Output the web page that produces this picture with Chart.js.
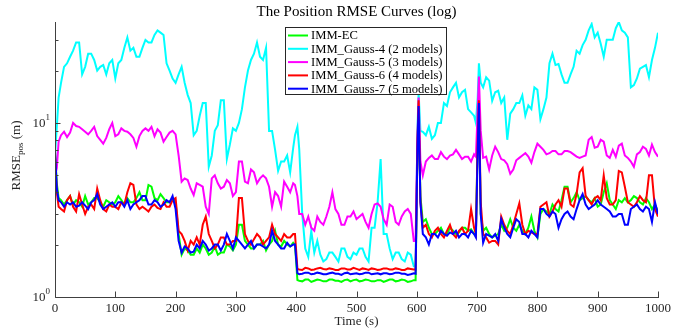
<!DOCTYPE html>
<html>
<head>
<meta charset="utf-8">
<script src="https://cdn.jsdelivr.net/npm/chart.js@4.4.1/dist/chart.umd.min.js"></script>
<style>
    html, body { margin: 0; padding: 0; background: #fff; }
    #contenedor { width: 686px; height: 328px; }
</style>
</head>
<body>
<div id="contenedor"><canvas id="graficoRmse" width="686" height="328"></canvas></div>
<script>
// tiempos muestreados (s)
const time = [0, 3, 6, 10, 15, 20, 25, 30, 35, 40, 45,
    50, 55, 60, 65, 70, 75, 80, 85, 90, 95,
    100, 105, 110, 115, 120, 125, 130, 135, 140, 145,
    150, 155, 160, 165, 170, 175, 180, 185, 190, 195,
    200, 205, 210, 215, 220, 225, 230, 235, 240, 245,
    250, 255, 260, 265, 270, 275, 280, 285, 290, 295,
    300, 305, 310, 315, 320, 325, 330, 335, 340, 345,
    350, 355, 360, 365, 370, 375, 380, 385, 390, 395, 398,
    402, 405, 410, 415, 420, 425, 430, 435, 440, 445,
    450, 455, 460, 465, 470, 475, 480, 485, 490, 495,
    500, 505, 510, 515, 520, 525, 530, 535, 540, 545,
    550, 555, 560, 565, 570, 575, 580, 585, 590, 595, 598,
    601, 603, 606, 610, 615, 620, 625, 630, 635, 640, 645,
    650, 655, 660, 665, 670, 675, 680, 685, 690, 695, 698,
    701, 703, 706, 710, 715, 720, 725, 730, 735, 740, 745,
    750, 755, 760, 765, 770, 775, 780, 785, 790, 795,
    800, 805, 810, 815, 820, 825, 830, 835, 840, 845,
    850, 855, 860, 865, 870, 875, 880, 885, 890, 895,
    900, 905, 910, 915, 920, 925, 930, 935, 940, 945,
    950, 955, 960, 965, 970, 975, 980, 985, 990, 995, 1000];

const immEC = [6.8, 4.5, 3.7, 3.6, 3.4, 3.6, 3.8, 3.4, 3.6, 3.5, 3.3,
    3.8, 3.4, 3.5, 3.7, 3.7, 3.5, 3.3, 3.6, 3.5, 3.4,
    3.5, 3.8, 3.6, 3.4, 3.7, 3.5, 3.5, 3.7, 4.0, 3.6,
    3.6, 4.4, 4.3, 3.7, 3.6, 3.9, 3.7, 3.5, 3.5, 3.7,
    3.5, 2.3, 1.75, 1.9, 1.85, 1.75, 1.75, 1.9, 1.8, 2.0,
    1.9, 1.75, 1.8, 1.95, 1.75, 1.8, 1.8, 2.0, 1.95, 1.85,
    2.0, 2.6, 2.6, 2.1, 2.0, 1.9, 1.9, 2.0, 2.0, 2.1,
    1.85, 2.0, 2.1, 2.4, 2.0, 1.95, 2.1, 2.0, 1.95, 2.05, 2.0,
    1.25, 1.24, 1.23, 1.26, 1.26, 1.22, 1.24, 1.26, 1.25, 1.23,
    1.23, 1.26, 1.26, 1.24, 1.24, 1.22, 1.25, 1.26, 1.23, 1.25,
    1.26, 1.23, 1.24, 1.26, 1.25, 1.23, 1.23, 1.25, 1.25, 1.22,
    1.24, 1.26, 1.26, 1.23, 1.24, 1.26, 1.25, 1.22, 1.23, 1.25, 1.25,
    7, 13, 3.8, 2.7, 2.8, 2.5, 2.3, 2.3, 2.4, 2.5, 2.3,
    2.3, 2.5, 2.4, 2.3, 2.35, 2.5, 2.5, 2.4, 2.45, 2.3, 2.3,
    8, 13, 3, 2.4, 2.5, 2.3, 2.2, 2.25, 2.3, 2.6, 2.4,
    2.5, 2.8, 2.5, 2.4, 2.6, 2.4, 2.3, 2.5, 2.9, 2.4,
    2.2, 3.0, 3.2, 3.1, 3.0, 3.4, 3.2, 3.1, 3.6, 4.3,
    4.3, 3.5, 3.7, 4.0, 3.6, 3.7, 3.8, 3.6, 3.5, 3.7,
    3.3, 3.4, 4.0, 4.5, 3.6, 3.4, 3.2, 3.6, 3.5, 3.7,
    3.5, 3.6, 3.8, 3.7, 3.5, 3.4, 3.7, 3.5, 3.2, 3.4, 3.1];

const gauss4 = [6.5, 9.5, 14, 17, 21, 22, 24, 26, 29, 29, 19,
    21, 25, 25, 23, 20, 21, 21.5, 19, 22, 23,
    18, 22, 23, 27, 31, 26, 27, 24, 24, 27,
    30, 29, 29, 32, 34, 33, 32, 22, 20, 18,
    17, 19, 21, 17, 14.5, 13, 8.5, 9, 11, 13,
    13, 5.6, 6.5, 9, 9.7, 13.5, 13.5, 6.2, 7.5, 9.3,
    9, 10, 12, 16, 20, 23, 25, 29, 24, 23,
    27, 9, 9, 7, 5.3, 6, 6, 6.5, 5.2, 7.2, 8.5,
    9.5, 7.1, 3.0, 1.9, 1.7, 2.4, 1.8, 2.1, 1.75, 1.6,
    1.65, 1.8, 1.8, 1.7, 1.6, 1.9, 1.9, 1.7, 1.65, 1.8,
    1.75, 1.9, 1.9, 1.7, 1.6, 2.5, 2.5, 3.5, 6.2, 2.3,
    2.3, 1.9, 1.65, 1.8, 1.8, 1.65, 1.6, 1.8, 1.75, 1.5, 1.5,
    9, 15, 9, 8.9, 8.5, 9.5, 8.1, 8.5, 10, 10, 13,
    12.5, 15, 16, 17, 14, 15, 15.5, 12, 11.5, 11, 10,
    14, 22, 17, 16, 18.3, 17.5, 13.4, 15, 15.3, 13, 14,
    8, 11.3, 12, 13, 13, 14.4, 11, 12.6, 12, 16,
    15.5, 10.5, 12, 14, 22, 25, 21.5, 21.8, 19, 17,
    17, 19, 21, 26, 25, 28, 30, 34, 37, 31,
    33, 28.5, 24, 30, 30, 30, 35, 38, 34, 33,
    31, 16, 16.5, 18, 20.5, 21, 21.5, 18.3, 23, 27, 33];

const gauss5 = [5.0, 5.5, 7.8, 8.5, 8.9, 8.3, 8.8, 10, 9.6, 9.5, 9.2,
    8.9, 8.6, 9.0, 9.5, 8.4, 8.0, 7.6, 8.2, 9.2, 10,
    8.4, 8.6, 9.3, 9.0, 8.9, 8.6, 8.2, 7.3, 8.4, 9.0,
    9.3, 9.0, 9.5, 8.4, 9.2, 8.8, 7.8, 8.3, 8.8, 9.0,
    8.6, 6.5, 4.6, 4.8, 4.7, 4.2, 3.85, 4.5, 4.4, 4.3,
    3.3, 3.0, 4.8, 5.0, 4.5, 4.2, 4.3, 4.7, 4.5, 3.8,
    4.0, 6.0, 6.0, 4.6, 4.5, 5.4, 5.2, 4.5, 4.8, 5.0,
    4.8, 4.3, 3.3, 4.0, 3.8, 3.3, 4.6, 4.3, 4.0, 4.5, 4.4,
    3.8, 3.0, 3.0, 2.6, 2.9, 2.5, 2.4, 2.9, 2.7, 2.6,
    2.9, 3.3, 4.0, 3.2, 3.0, 2.6, 2.6, 2.9, 2.9, 3.1,
    2.8, 2.9, 3.0, 2.7, 2.5, 3.0, 3.4, 3.45, 3.3, 2.8,
    2.6, 3.4, 3.3, 2.7, 2.6, 2.9, 3.1, 3.2, 3.0, 2.1, 2.1,
    8, 14, 6, 5.0, 6.0, 6.3, 6.5, 6.2, 6.2, 6.8, 6.4,
    6.2, 6.5, 6.6, 7.0, 6.6, 6.2, 6.4, 6.4, 6.0, 6.6, 6.4,
    12, 18.5, 9, 6.3, 6.4, 5.4, 6.5, 7.3, 6.8, 6.2, 6.1,
    5.8, 5.1, 5.4, 6.1, 6.3, 6.5, 6.7, 6.4, 5.9, 6.8,
    7.6, 7.3, 7.0, 6.6, 6.7, 6.9, 6.9, 6.6, 6.6, 6.9,
    6.9, 6.8, 6.6, 6.4, 6.3, 6.4, 6.5, 8.0, 8.3, 7.2,
    7.3, 8.0, 7.8, 6.5, 6.3, 7.0, 6.4, 7.4, 7.6, 6.5,
    6.3, 6.0, 5.6, 6.6, 6.8, 7.3, 7.1, 6.5, 7.5, 6.8, 6.4];

const gauss6 = [6.5, 4.0, 3.3, 3.2, 3.1, 3.6, 3.8, 3.3, 3.1, 3.9, 3.4,
    3.0, 3.3, 3.4, 3.2, 4.2, 3.6, 3.2, 3.1, 3.4, 3.3,
    3.3, 3.2, 3.5, 3.4, 4.0, 4.5, 4.4, 3.4, 3.2, 3.3,
    3.2, 3.1, 3.3, 3.4, 3.25, 3.2, 3.5, 3.3, 3.3, 3.6,
    3.7, 2.4, 2.3, 2.1, 1.85, 2.1, 2.0, 2.2, 2.0, 2.6,
    2.9, 2.3, 2.1, 1.9, 2.0, 2.2, 2.2, 2.0, 2.0, 2.1,
    2.1, 3.7, 3.7, 2.3, 2.1, 2.0, 2.15, 2.3, 2.2, 2.0,
    2.1, 2.2, 2.6, 2.3, 2.2, 2.1, 2.3, 2.2, 2.2, 2.3, 2.3,
    1.45, 1.44, 1.43, 1.47, 1.46, 1.43, 1.44, 1.46, 1.47, 1.45,
    1.44, 1.46, 1.45, 1.43, 1.43, 1.46, 1.46, 1.44, 1.44, 1.47,
    1.45, 1.43, 1.46, 1.45, 1.43, 1.46, 1.45, 1.43, 1.44, 1.46,
    1.46, 1.44, 1.44, 1.46, 1.45, 1.43, 1.43, 1.46, 1.45, 1.44, 1.44,
    7.5, 13.5, 3.5, 2.5, 2.6, 2.3, 2.2, 2.4, 2.5, 2.3, 2.2,
    2.4, 2.6, 2.3, 2.2, 2.4, 2.5, 2.3, 2.4, 3.2, 2.5, 2.3,
    8, 13.5, 3.5, 2.3, 2.2, 2.05, 2.1, 2.1, 2.0, 2.9, 2.6,
    2.4, 2.3, 2.6, 3.0, 3.45, 2.6, 2.3, 2.4, 2.35, 2.3,
    2.3, 3.3, 3.4, 3.5, 2.9, 3.1, 3.4, 3.6, 3.3, 4.2,
    4.2, 3.4, 3.3, 3.9, 5.2, 5.5, 3.8, 3.6, 3.4, 3.7,
    3.8, 3.6, 5.0, 3.7, 3.4, 3.4, 3.6, 5.3, 5.2, 4.3,
    3.5, 3.4, 3.3, 3.5, 3.8, 3.6, 3.5, 5.0, 5.0, 3.2, 2.9];

const gauss7 = [7.0, 4.2, 3.6, 3.5, 3.3, 3.5, 3.4, 3.5, 3.3, 3.35, 3.5,
    3.35, 3.2, 3.5, 3.6, 3.9, 3.4, 3.2, 3.3, 3.4, 3.5,
    3.3, 3.5, 3.5, 3.3, 3.6, 3.2, 3.4, 3.5, 3.6, 3.8,
    3.8, 3.4, 3.4, 3.6, 3.5, 3.3, 3.4, 3.6, 3.5, 3.8,
    3.2, 2.1, 1.8, 1.95, 1.9, 1.8, 1.82, 2.0, 1.9, 2.1,
    2.0, 1.85, 1.9, 2.0, 2.0, 1.85, 2.0, 2.3, 2.1, 1.9,
    2.2, 2.1, 2.0, 1.9, 2.0, 2.1, 1.9, 2.0, 2.0, 1.95,
    1.9, 2.0, 2.4, 2.1, 2.0, 1.9, 1.9, 2.05, 1.95, 2.0, 2.0,
    1.37, 1.35, 1.36, 1.38, 1.38, 1.35, 1.36, 1.38, 1.37, 1.35,
    1.35, 1.37, 1.38, 1.36, 1.36, 1.34, 1.37, 1.38, 1.35, 1.36,
    1.37, 1.35, 1.36, 1.38, 1.38, 1.35, 1.36, 1.37, 1.35, 1.37,
    1.37, 1.35, 1.36, 1.38, 1.38, 1.36, 1.36, 1.34, 1.35, 1.37, 1.36,
    7, 12.5, 3.5, 2.3, 2.2, 2.0, 2.3, 2.3, 2.2, 2.4, 2.3,
    2.25, 2.35, 2.3, 2.4, 2.2, 2.3, 2.3, 2.2, 2.4, 2.3, 2.2,
    7, 13, 3, 2.05, 2.3, 2.25, 2.2, 2.3, 2.1, 2.8, 2.5,
    2.3, 2.2, 2.5, 2.8, 2.7, 2.3, 2.3, 2.2, 2.4, 2.3,
    2.2, 3.2, 3.2, 3.0, 2.9, 3.1, 3.0, 2.5, 2.8, 3.0,
    3.1, 2.9, 2.8, 3.2, 3.6, 3.9, 3.4, 3.2, 3.3, 3.4,
    3.6, 3.4, 3.3, 3.2, 3.1, 2.9, 2.9, 3.0, 3.0, 2.6,
    2.6, 3.2, 3.3, 3.4, 3.2, 3.1, 3.3, 3.2, 2.7, 3.5, 3.0];

const etiquetas = ['IMM-EC', 'IMM_Gauss-4 (2 models)', 'IMM_Gauss-5 (3 models)',
    'IMM_Gauss-6 (4 models)', 'IMM_Gauss-7 (5 models)'];
const colores = ['#00ff00', '#00ffff', '#ff00ff', '#ff0000', '#0000ff'];
const series = [immEC, gauss4, gauss5, gauss6, gauss7];

const xTicks = [0, 100, 200, 300, 400, 500, 600, 700, 800, 900, 1000];
const yTicks = [1, 2, 3, 4, 5, 6, 7, 8, 9, 10, 20, 30];
const yMayores = [1, 10];

const SERIF = '"Liberation Serif", "Times New Roman", serif';

series.forEach((s, i) => {
    if (s.length !== time.length) console.warn('longitud distinta en', etiquetas[i], s.length, time.length);
});

// ejes al estilo MATLAB: marcas hacia dentro, sin caja superior/derecha
const ejesMatlab = {
    id: 'ejesMatlab',
    afterDraw(chart) {
        const { ctx, chartArea: area } = chart;
        const ex = chart.scales.x, ey = chart.scales.y;
        const x0 = Math.round(ex.getPixelForValue(0)) + 0.5;
        const y0 = Math.round(ey.getPixelForValue(1)) + 0.5;
        ctx.save();

        ctx.strokeStyle = '#404040';
        ctx.lineWidth = 1;
        ctx.beginPath();
        ctx.moveTo(x0, area.top);
        ctx.lineTo(x0, y0);
        ctx.lineTo(area.right + 1, y0);
        ctx.stroke();

        ctx.beginPath();
        xTicks.forEach(v => {
            const px = Math.round(ex.getPixelForValue(v)) + 0.5;
            ctx.moveTo(px, y0);
            ctx.lineTo(px, y0 - 6);
        });
        yTicks.forEach(v => {
            const py = Math.round(ey.getPixelForValue(v)) + 0.5;
            const largo = yMayores.includes(v) ? 5 : 3;
            ctx.moveTo(x0, py);
            ctx.lineTo(x0 + largo, py);
        });
        ctx.stroke();

        // etiquetas del eje x
        ctx.fillStyle = '#262626';
        ctx.font = '13px ' + SERIF;
        ctx.textAlign = 'center';
        ctx.textBaseline = 'top';
        xTicks.forEach(v => ctx.fillText(String(v), ex.getPixelForValue(v), y0 + 5));

        // etiquetas del eje y: 10^0, 10^1
        yMayores.forEach(v => {
            const py = ey.getPixelForValue(v);
            const exp = String(Math.round(Math.log10(v)));
            ctx.font = '9px ' + SERIF;
            const ws = ctx.measureText(exp).width;
            ctx.textBaseline = 'middle';
            ctx.textAlign = 'left';
            ctx.fillText(exp, 50 - ws, py - 5);
            ctx.font = '13px ' + SERIF;
            ctx.textAlign = 'right';
            ctx.fillText('10', 50 - ws, py + 1);
        });

        // titulo
        const cx = (area.left + area.right) / 2;
        ctx.fillStyle = '#000';
        ctx.font = '15px ' + SERIF;
        ctx.textAlign = 'center';
        ctx.textBaseline = 'middle';
        ctx.fillText('The Position RMSE Curves (log)', cx, 12);

        // titulo eje x
        ctx.fillStyle = '#262626';
        ctx.font = '13px ' + SERIF;
        ctx.fillText('Time (s)', cx, 322);

        // titulo eje y con subindice
        ctx.save();
        ctx.translate(17, (area.top + area.bottom) / 2 - 4);
        ctx.rotate(-Math.PI / 2);
        ctx.textAlign = 'left';
        ctx.textBaseline = 'middle';
        ctx.font = '13px ' + SERIF;
        const w1 = ctx.measureText('RMSE').width;
        const w3 = ctx.measureText(' (m)').width;
        ctx.font = '9px ' + SERIF;
        const w2 = ctx.measureText('pos').width;
        let px = -(w1 + w2 + w3) / 2;
        ctx.font = '13px ' + SERIF;
        ctx.fillText('RMSE', px, 0);
        ctx.font = '9px ' + SERIF;
        ctx.fillText('pos', px + w1, 4);
        ctx.font = '13px ' + SERIF;
        ctx.fillText(' (m)', px + w1 + w2, 0);
        ctx.restore();

        // leyenda
        const lx = 285.5, ly = 27.5, lw = 161, lh = 67;
        ctx.fillStyle = '#fff';
        ctx.fillRect(lx, ly, lw, lh);
        ctx.strokeStyle = '#262626';
        ctx.strokeRect(lx, ly, lw, lh);
        ctx.font = '12.6px ' + SERIF;
        ctx.textAlign = 'left';
        ctx.textBaseline = 'middle';
        etiquetas.forEach((txt, i) => {
            const fy = 35.5 + i * 13.3;
            ctx.strokeStyle = colores[i];
            ctx.lineWidth = 2;
            ctx.beginPath();
            ctx.moveTo(288, fy);
            ctx.lineTo(308, fy);
            ctx.stroke();
            ctx.fillStyle = '#000';
            ctx.fillText(txt, 311, fy + 0.5);
        });

        ctx.restore();
    }
};

const datasets = series.map((vals, i) => ({
    label: etiquetas[i],
    data: time.map((t, k) => ({ x: t, y: vals[k] })),
    borderColor: colores[i],
    backgroundColor: colores[i],
    borderWidth: 2,
    pointRadius: 0,
    tension: 0,
    fill: false,
    order: series.length - i
}));

const ctxRmse = document.getElementById('graficoRmse').getContext('2d');
new Chart(ctxRmse, {
    type: 'line',
    data: { datasets: datasets },
    options: {
        responsive: false,
        animation: false,
        layout: { padding: { left: 55, right: 28, top: 22, bottom: 31 } },
        plugins: {
            legend: { display: false },
            title: { display: false },
            tooltip: { enabled: false }
        },
        scales: {
            x: { type: 'linear', min: 0, max: 1000, display: false },
            y: { type: 'logarithmic', min: 1, max: 38, display: false }
        }
    },
    plugins: [ejesMatlab]
});
</script>
</body>
</html>
